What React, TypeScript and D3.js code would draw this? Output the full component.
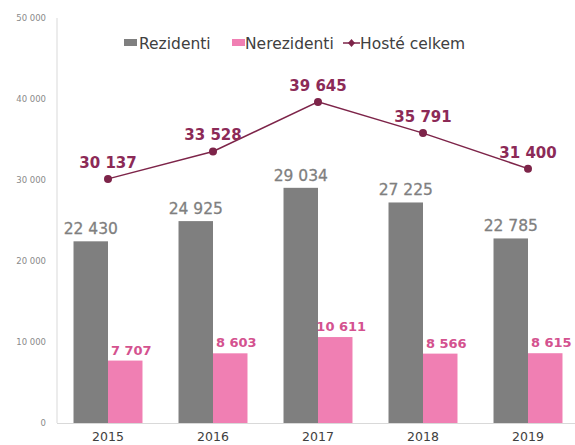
import React from "react";
import * as d3 from "d3";

const years = ["2015", "2016", "2017", "2018", "2019"];
const rezidenti = [22430, 24925, 29034, 27225, 22785];
const nerezidenti = [7707, 8603, 10611, 8566, 8615];
const hoste = [30137, 33528, 39645, 35791, 31400];
const yTicks = [0, 10000, 20000, 30000, 40000, 50000];
const seriesNames = ["Rezidenti", "Nerezidenti", "Hosté celkem"];

const W = 575;
const H = 445;
const FONT = "'DejaVu Sans', Verdana, sans-serif";
const GRAY = "#7f7f7f";
const PINK = "#f07fb3";
const MAROON = "#7d2449";
const MAROON_TXT = "#8c2a57";
const PINK_TXT = "#d4528f";

const fmt = (v: number) => d3.format(",")(v).replace(/,/g, " ");

export default function App() {
  const y = d3.scaleLinear().domain([0, 50000]).range([423, 18]);
  const x = d3
    .scaleBand<string>()
    .domain(years)
    .range([55.5, 580.5])
    .paddingInner(0.343)
    .paddingOuter(0.1715);
  const xs = d3
    .scaleBand<string>()
    .domain(["r", "n"])
    .range([0, x.bandwidth()]);
  const cx = (yr: string) => (x(yr) as number) + x.bandwidth() / 2;
  const line = d3
    .line<number>()
    .x((_, i) => cx(years[i]))
    .y((d) => y(d));

  return (
    <svg
      width={W}
      height={H}
      style={{ position: "absolute", left: 0, top: 0, background: "#fff" }}
      fontFamily={FONT}
    >
      {/* y ticks */}
      {yTicks.map((t) => (
        <text
          key={t}
          x={46}
          y={y(t)}
          dy="0.35em"
          textAnchor="end"
          fontSize={8.5}
          fill="#8a8a8a"
        >
          {fmt(t)}
        </text>
      ))}
      <line x1={57} x2={57} y1={18} y2={423} stroke="#d9d9d9" strokeWidth={1} />
      <line x1={57} x2={W} y1={423.5} y2={423.5} stroke="#d9d9d9" strokeWidth={1} />

      {/* bars */}
      {years.map((yr, i) => {
        const x0 = x(yr) as number;
        const xr = x0 + (xs("r") as number);
        const xn = x0 + (xs("n") as number);
        const bw = xs.bandwidth();
        return (
          <g key={yr}>
            <rect x={xr} y={y(rezidenti[i])} width={bw} height={y(0) - y(rezidenti[i])} fill={GRAY} />
            <rect x={xn} y={y(nerezidenti[i])} width={bw} height={y(0) - y(nerezidenti[i])} fill={PINK} />
            <text
              x={xr + bw / 2}
              y={y(rezidenti[i]) - 7}
              textAnchor="middle"
              fontSize={15.5}
              fill={GRAY}
              stroke={GRAY}
              strokeWidth={0.3}
            >
              {fmt(rezidenti[i])}
            </text>
            <text
              x={xn + bw / 2 + 6}
              y={y(nerezidenti[i]) - 6}
              textAnchor="middle"
              fontSize={13}
              fontWeight="bold"
              fill={PINK_TXT}
            >
              {fmt(nerezidenti[i])}
            </text>
            <text
              x={cx(yr)}
              y={441}
              textAnchor="middle"
              fontSize={12.5}
              fill="#404040"
            >
              {yr}
            </text>
          </g>
        );
      })}

      {/* line */}
      <path d={line(hoste) as string} fill="none" stroke={MAROON} strokeWidth={1.5} />
      {hoste.map((v, i) => (
        <g key={i}>
          <circle cx={cx(years[i])} cy={y(v)} r={4} fill={MAROON} />
          <text
            x={cx(years[i])}
            y={y(v) - 11}
            textAnchor="middle"
            fontSize={15}
            fontWeight="bold"
            fill={MAROON_TXT}
          >
            {fmt(v)}
          </text>
        </g>
      ))}

      {/* legend */}
      <g fontSize={15.5} fill="#404040">
        <rect x={124} y={39} width={13} height={7} fill={GRAY} />
        <text x={139} y={48.5}>{seriesNames[0]}</text>
        <rect x={232} y={39} width={13} height={7} fill={PINK} />
        <text x={245} y={48.5}>{seriesNames[1]}</text>
        <line x1={343} x2={360} y1={43} y2={43} stroke={MAROON} strokeWidth={1.5} />
        <path d="M351.5,39 L355,43 L351.5,47 L348,43 Z" fill={MAROON} />
        <text x={360} y={48.5}>{seriesNames[2]}</text>
      </g>
    </svg>
  );
}
